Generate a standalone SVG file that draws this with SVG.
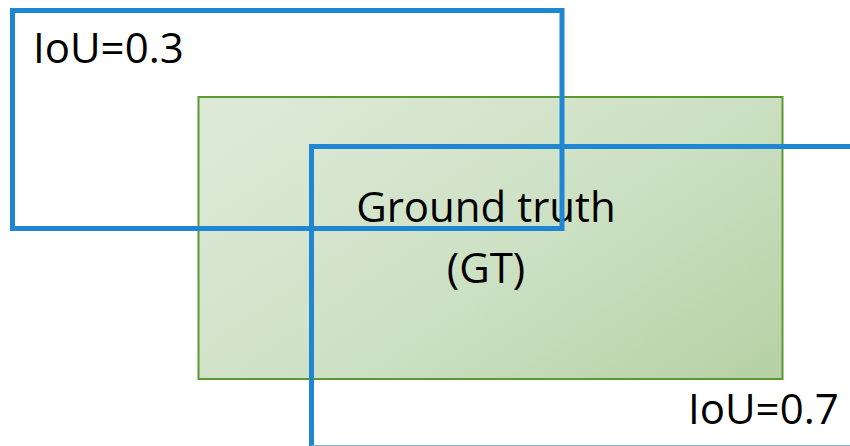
<svg xmlns="http://www.w3.org/2000/svg" width="850" height="446" viewBox="0 0 850 446">
  <style>
    .label { font-family: "Open Sans", "Noto Sans", "Liberation Sans", sans-serif; font-size: 42px; fill: #000; }
    .box { fill: none; stroke: #1f87d1; stroke-width: 5; }
    .gt { stroke: #5a9a30; stroke-width: 2; }
  </style>
  <defs>
    <linearGradient id="gtFill" x1="0" y1="0.2" x2="1" y2="0.9">
      <stop offset="0" stop-color="#dde9d7"/>
      <stop offset="0.55" stop-color="#cce0c3"/>
      <stop offset="1" stop-color="#b8d2a7"/>
    </linearGradient>
  </defs>

  <rect width="850" height="446" fill="#ffffff"/>

  <!-- ground-truth region -->
  <g id="ground-truth">
    <rect class="gt" x="198.5" y="97" width="584" height="282" fill="url(#gtFill)"/>
    <text class="label" x="486" y="222" text-anchor="middle">Ground truth</text>
    <text class="label" x="486" y="283" text-anchor="middle">(GT)</text>
  </g>

  <!-- candidate boxes -->
  <g id="box-iou-03">
    <rect class="box" x="12.5" y="10.5" width="549.5" height="218"/>
    <text class="label" x="33" y="63">IoU=0.3</text>
  </g>

  <g id="box-iou-07">
    <path class="box" d="M311.5 446 V146.5 H852"/>
    <line x1="311.5" y1="445.5" x2="850" y2="445.5" stroke="#7fb3dd" stroke-width="1"/>
    <text class="label" x="688" y="424">IoU=0.7</text>
  </g>
</svg>
